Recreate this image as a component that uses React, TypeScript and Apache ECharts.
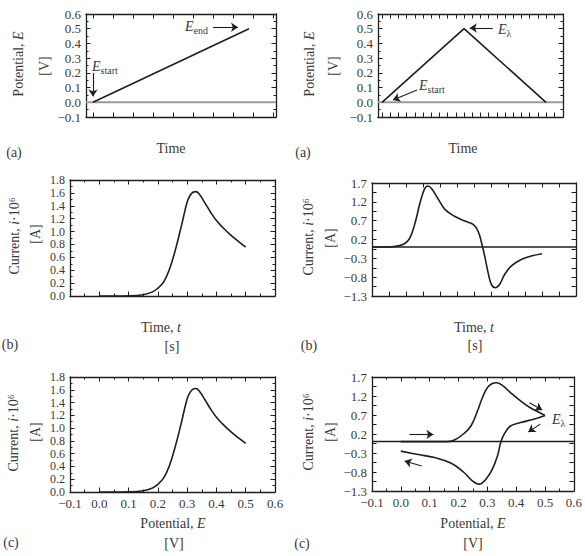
import React, { useEffect, useRef } from "react";
import * as echarts from "echarts";

const FONT = '"Liberation Serif", "Times New Roman", serif';
const INK = "#1e1e1e";
const TEXT = "#3a3a3a";

// ---------- Data ----------
// (a) left: linear potential sweep
const sweepTime = [0, 7.8];
const sweepPotential = [0, 0.5];
const sweepTimeTicks = [0, 1, 2, 3, 4, 5, 6, 7, 8, 9];

// (a) right: triangular (cyclic) potential sweep
const cyclicTime = [0, 10, 20];
const cyclicPotential = [0, 0.5, 0];
const cyclicTimeTicks = [0, 1, 2, 3, 4, 5, 6, 7, 8, 9, 10, 11, 12, 13, 14, 15, 16, 17, 18, 19, 20, 21];

// (b)/(c) left: linear sweep voltammogram
const lsvPotential = [0, 0.05, 0.1, 0.15, 0.18, 0.2, 0.22, 0.24, 0.26, 0.28, 0.3, 0.31, 0.32, 0.33, 0.34, 0.36, 0.38, 0.4, 0.42, 0.45, 0.48, 0.5];
const lsvCurrent = [0, 0, 0.003, 0.02, 0.06, 0.12, 0.22, 0.42, 0.72, 1.08, 1.46, 1.56, 1.61, 1.62, 1.59, 1.45, 1.3, 1.17, 1.07, 0.94, 0.83, 0.76];

// (b) right: cyclic voltammogram current vs time
const cvTime = [0, 1.0, 1.56, 1.95, 2.24, 2.54, 2.83, 3.08, 3.28, 3.51, 3.9, 4.29, 4.88, 5.46, 5.95, 6.24, 6.44, 6.63, 6.83, 7.02, 7.26, 7.51, 7.8, 8.2, 8.78, 9.37, 10.0];
const cvTimeCurrent = [0, 0, 0.03, 0.1, 0.25, 0.65, 1.18, 1.53, 1.62, 1.55, 1.27, 1.0, 0.81, 0.69, 0.6, 0.42, 0.12, -0.24, -0.68, -0.99, -1.08, -0.99, -0.73, -0.5, -0.33, -0.24, -0.18];

// (c) right: cyclic voltammogram, forward and reverse scans
const cvForwardPotential = [0.0, 0.1, 0.163, 0.186, 0.22, 0.243, 0.266, 0.283, 0.3, 0.317, 0.332, 0.352, 0.38, 0.415, 0.449, 0.5];
const cvForwardCurrent = [0, 0, 0, 0.04, 0.22, 0.41, 0.81, 1.16, 1.42, 1.53, 1.55, 1.48, 1.29, 1.07, 0.89, 0.69];
const cvReversePotential = [0.5, 0.461, 0.415, 0.38, 0.358, 0.346, 0.335, 0.317, 0.295, 0.272, 0.249, 0.22, 0.175, 0.117, 0.06, 0.0];
const cvReverseCurrent = [0.69, 0.59, 0.5, 0.41, 0.19, -0.03, -0.38, -0.73, -0.99, -1.12, -1.04, -0.82, -0.57, -0.42, -0.34, -0.25];

// Tick labels for the CV current axes
const cvCurrentLabels = [-1.3, -0.8, -0.3, 0.2, 0.7, 1.2, 1.7];
const cvCurrentTicks = [-1.3, -1.05, -0.8, -0.55, -0.3, -0.05, 0.2, 0.45, 0.7, 0.95, 1.2, 1.45, 1.7];

// Annotation arrows [x1, y1, x2, y2] in data units
const sweepArrows = [
  [0, 0.2, 0, 0.04],
  [6.0, 0.51, 7.25, 0.51],
];
const cyclicArrows = [
  [13.5, 0.505, 10.7, 0.505],
  [4.27, 0.083, 1.34, 0.015],
];
const cvArrows = [
  [0.03, 0.19, 0.113, 0.19],
  [0.072, -0.64, 0.013, -0.51],
  [0.446, 1.02, 0.49, 0.83],
  [0.483, 0.46, 0.442, 0.25],
];

// ---------- Helpers ----------
const zip = (xs: number[], ys: number[]) => xs.map((x, i) => [x, ys[i]]);
const fmt = (v: number) => {
  const s = (Math.abs(v) < 1e-9 ? 0 : v).toFixed(1);
  return s.replace("-", "\u2212");
};

type AxisSpec = {
  min: number;
  max: number;
  interval?: number;
  ticks?: number[];
  labels?: boolean | number[];
  minor?: boolean;
  fontSize?: number;
};

function makeAxis(gridIndex: number, position: string, spec: AxisSpec, withLabels: boolean) {
  return {
    type: "value",
    gridIndex,
    position,
    min: spec.min,
    max: spec.max,
    interval: spec.interval,
    axisLine: { show: true, onZero: false, lineStyle: { color: INK, width: 1.3 } },
    axisTick: {
      show: true,
      inside: true,
      length: 4.5,
      lineStyle: { color: INK, width: 1 },
      customValues: spec.ticks,
    },
    minorTick: { show: !!spec.minor, splitNumber: 2, length: 2.5, lineStyle: { color: INK, width: 1 } },
    splitLine: { show: false },
    minorSplitLine: { show: false },
    axisLabel: withLabels
      ? {
          show: true,
          interval: 0,
          fontFamily: FONT,
          fontSize: spec.fontSize || 13,
          lineHeight: spec.fontSize || 13,
          color: TEXT,
          margin: 5,
          formatter: fmt,
          showMinLabel: true,
          showMaxLabel: true,
          customValues: Array.isArray(spec.labels) ? spec.labels : undefined,
        }
      : { show: false },
  };
}

const arrowLine = (arrows: number[][]) => ({
  silent: true,
  symbol: ["none", "arrow"],
  symbolSize: 7,
  label: { show: false },
  lineStyle: { color: INK, width: 1.1, type: "solid" },
  emphasis: { disabled: true },
  data: arrows.map((a) => [{ coord: [a[0], a[1]] }, { coord: [a[2], a[3]] }]),
});

const RICH = {
  n: { fontFamily: FONT, fontSize: 14, fill: TEXT },
  i: { fontFamily: FONT, fontSize: 14, fontStyle: "italic", fill: TEXT },
  e: { fontFamily: FONT, fontSize: 14, fontStyle: "italic", fill: TEXT, lineHeight: 18 },
  s: { fontFamily: FONT, fontSize: 10, fill: TEXT, lineHeight: 10, verticalAlign: "bottom" },
};

const txt = (x: number, y: number, text: string, rot = 0, align = "center") => ({
  type: "text",
  x,
  y,
  rotation: rot,
  silent: true,
  style: {
    text,
    rich: RICH,
    fontFamily: FONT,
    fontSize: 14,
    fill: TEXT,
    align,
    verticalAlign: "middle",
  },
});

const R = Math.PI / 2;
const POT = "{n|Potential, }{i|E}";
const CUR = "{n|Current, }{i|i}{n|\u00b710\u2076}";

function buildOption() {
  const grids = [
    { left: 86, top: 14, width: 190, height: 103 },
    { left: 378, top: 14, width: 185, height: 103 },
    { left: 70, top: 180, width: 205, height: 116 },
    { left: 372, top: 183, width: 204, height: 113 },
    { left: 70, top: 377, width: 205, height: 115 },
    { left: 372, top: 377, width: 204, height: 114 },
  ];

  const xSpecs: AxisSpec[] = [
    { min: -0.35, max: 9.15, ticks: sweepTimeTicks },
    { min: -0.49, max: 22.07, ticks: cyclicTimeTicks },
    { min: -0.1, max: 0.6, interval: 0.1, minor: true },
    { min: 0, max: 12, interval: 1 },
    { min: -0.1, max: 0.6, interval: 0.1, minor: true, labels: true },
    { min: -0.1, max: 0.6, interval: 0.1, minor: true, labels: true },
  ];
  const ySpecs: AxisSpec[] = [
    { min: -0.1, max: 0.6, interval: 0.1, minor: true, labels: true },
    { min: -0.1, max: 0.6, interval: 0.1, minor: true, labels: true },
    { min: 0, max: 1.8, interval: 0.2, minor: true, labels: true, fontSize: 12 },
    { min: -1.3, max: 1.7, ticks: cvCurrentTicks, labels: cvCurrentLabels },
    { min: 0, max: 1.8, interval: 0.2, minor: true, labels: true, fontSize: 12 },
    { min: -1.3, max: 1.7, ticks: cvCurrentTicks, labels: cvCurrentLabels },
  ];

  const xAxis: any[] = [];
  const yAxis: any[] = [];
  for (let g = 0; g < 6; g++) {
    xAxis.push(makeAxis(g, "bottom", xSpecs[g], !!xSpecs[g].labels));
    xAxis.push(makeAxis(g, "top", xSpecs[g], false));
    yAxis.push(makeAxis(g, "left", ySpecs[g], !!ySpecs[g].labels));
    yAxis.push(makeAxis(g, "right", ySpecs[g], false));
  }

  const curve = (g: number, data: number[][], extra: any = {}) => ({
    type: "line",
    xAxisIndex: 2 * g,
    yAxisIndex: 2 * g,
    data,
    showSymbol: false,
    symbol: "none",
    silent: true,
    lineStyle: { color: INK, width: 1.6 },
    z: 3,
    ...extra,
  });

  // horizontal line at zero across the whole plot
  const zero = (g: number, color: string, width: number) => ({
    type: "line",
    xAxisIndex: 2 * g,
    yAxisIndex: 2 * g,
    data: [
      [xSpecs[g].min, 0],
      [xSpecs[g].max, 0],
    ],
    showSymbol: false,
    symbol: "none",
    silent: true,
    lineStyle: { color, width },
    z: 2,
  });

  const series = [
    zero(0, "#9a9a9a", 2),
    curve(0, zip(sweepTime, sweepPotential), { markLine: arrowLine(sweepArrows) }),
    zero(1, "#9a9a9a", 2),
    curve(1, zip(cyclicTime, cyclicPotential), { markLine: arrowLine(cyclicArrows) }),
    curve(2, zip(lsvPotential, lsvCurrent), { smooth: 0.4 }),
    zero(3, INK, 1.5),
    curve(3, zip(cvTime, cvTimeCurrent), { smooth: 0.4 }),
    curve(4, zip(lsvPotential, lsvCurrent), { smooth: 0.4 }),
    zero(5, INK, 1.5),
    curve(5, zip(cvForwardPotential, cvForwardCurrent), { smooth: 0.4, markLine: arrowLine(cvArrows) }),
    curve(5, zip(cvReversePotential, cvReverseCurrent), { smooth: 0.4 }),
  ];

  const graphic = [
    // (a) left
    txt(18, 64, POT, R),
    txt(44, 66, "{n|[V]}", R),
    txt(171, 148, "{n|Time}"),
    txt(14, 152, "{n|(a)}"),
    txt(92, 66, "{e|E}{s|start}", 0, "left"),
    txt(185, 26, "{e|E}{s|end}", 0, "left"),
    // (a) right
    txt(309, 64, POT, R),
    txt(333, 66, "{n|[V]}", R),
    txt(463, 148, "{n|Time}"),
    txt(303, 152, "{n|(a)}"),
    txt(498, 29, "{e|E}{s|\u03bb}", 0, "left"),
    txt(419, 85, "{e|E}{s|start}", 0, "left"),
    // (b) left
    txt(14, 236, CUR, R),
    txt(35, 234, "{n|[A]}", R),
    txt(161, 327, "{n|Time, }{i|t}"),
    txt(172, 346, "{n|[s]}"),
    txt(10, 344, "{n|(b)}"),
    // (b) right
    txt(308, 237, CUR, R),
    txt(330, 238, "{n|[A]}", R),
    txt(474, 327, "{n|Time, }{i|t}"),
    txt(475, 345, "{n|[s]}"),
    txt(309, 345, "{n|(b)}"),
    // (c) left
    txt(13, 433, CUR, R),
    txt(35, 432, "{n|[A]}", R),
    txt(173, 523, POT),
    txt(174, 543, "{n|[V]}"),
    txt(11, 542, "{n|(c)}"),
    // (c) right
    txt(308, 432, CUR, R),
    txt(330, 432, "{n|[A]}", R),
    txt(473, 523, POT),
    txt(473, 543, "{n|[V]}"),
    txt(302, 543, "{n|(c)}"),
    txt(552, 419, "{e|E}{s|\u03bb}", 0, "left"),
  ];

  return {
    animation: false,
    backgroundColor: "#ffffff",
    grid: grids.map((g) => ({ ...g, containLabel: false })),
    xAxis,
    yAxis,
    series,
    graphic,
  };
}

export default function App() {
  const ref = useRef<HTMLDivElement>(null);
  useEffect(() => {
    document.body.style.margin = "0";
    const chart = echarts.init(ref.current!, null, { renderer: "svg" });
    chart.setOption(buildOption() as any);
    return () => chart.dispose();
  }, []);
  return <div ref={ref} style={{ width: 585, height: 556, background: "#fff" }} />;
}
